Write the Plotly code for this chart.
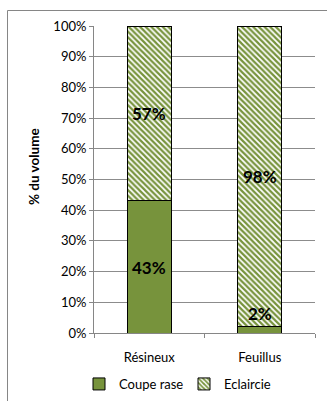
import plotly.graph_objects as go

# Share of harvested volume by cut type
categories = ["Résineux", "Feuillus"]
coupe_rase = [43, 2]
eclaircie = [57, 98]
y_ticks = [0, 10, 20, 30, 40, 50, 60, 70, 80, 90, 100]
y_tick_labels = [f"{v}%" for v in y_ticks]

GREEN = "#77933C"
FONT = "Lato"

W, H = 327, 401
L, R, T, B = 94, 12, 26, 68
pw, ph = W - L - R, H - T - B


def px_x(p):
    return (p - L) / pw


def px_y(p):
    return (H - B - p) / ph


fig = go.Figure()
fig.add_trace(go.Bar(
    name="Coupe rase", x=categories, y=coupe_rase,
    marker=dict(color=GREEN, line=dict(color="#000000", width=1)),
    width=0.4,
))
fig.add_trace(go.Bar(
    name="Eclaircie", x=categories, y=eclaircie,
    marker=dict(color="#FFFFFF", line=dict(color="#000000", width=1),
                pattern=dict(shape="\\", fgcolor=GREEN, bgcolor="#FFFFFF",
                             size=4, solidity=0.55, fillmode="replace")),
    width=0.4,
))

# Value labels centred on each segment; tiny segments get their label just above
annotations = []
for cat, a, b in zip(categories, coupe_rase, eclaircie):
    for base, v in ((0, a), (a, b)):
        if v >= 8:
            annotations.append(dict(x=cat, y=base + v / 2, text=f"<b>{v}%</b>",
                                    showarrow=False, yanchor="middle",
                                    font=dict(family=FONT, size=17, color="#000")))
        else:
            annotations.append(dict(x=cat, y=base + v, text=f"<b>{v}%</b>",
                                    showarrow=False, yanchor="bottom", yshift=1,
                                    font=dict(family=FONT, size=17, color="#000")))

# Vertical axis title
annotations.append(dict(xref="paper", yref="paper", x=px_x(34), y=px_y(167),
                        text="<b>% du volume</b>", textangle=-90, showarrow=False,
                        xanchor="center", yanchor="middle",
                        font=dict(family=FONT, size=13.5, color="#000")))

# Chart-area border (extends past the right and bottom edges)
shapes = [dict(type="rect", xref="paper", yref="paper",
               x0=px_x(7.5), x1=px_x(340), y0=px_y(10.5), y1=px_y(410),
               line=dict(color="#868686", width=1), fillcolor="rgba(0,0,0,0)",
               layer="below")]

fig.update_layout(
    width=W, height=H,
    margin=dict(l=L, r=R, t=T, b=B, pad=0, autoexpand=False),
    barmode="stack",
    paper_bgcolor="#FFFFFF", plot_bgcolor="#FFFFFF",
    font=dict(family=FONT, size=13, color="#000000"),
    showlegend=True,
    legend=dict(orientation="h", x=px_x(79), xanchor="left",
                y=px_y(384), yanchor="middle",
                font=dict(family=FONT, size=13, color="#000"),
                itemwidth=30, entrywidth=60, traceorder="normal",
                bgcolor="rgba(0,0,0,0)"),
    annotations=annotations,
    shapes=shapes,
    bargap=0.6,
)
fig.update_xaxes(
    showgrid=False, showline=True, linecolor="#868686", linewidth=1,
    ticks="outside", ticklen=4, tickcolor="#868686",
    tickson="boundaries", tickfont=dict(family=FONT, size=13),
    ticklabelstandoff=12,
)
fig.update_yaxes(
    range=[0, 100], tickvals=y_ticks, ticktext=y_tick_labels,
    showgrid=True, gridcolor="#8C8C8C", gridwidth=1,
    showline=True, linecolor="#868686", linewidth=1,
    ticks="outside", ticklen=4, tickcolor="#868686",
    tickfont=dict(family=FONT, size=13), zeroline=False,
)

fig.write_html("out.html")
